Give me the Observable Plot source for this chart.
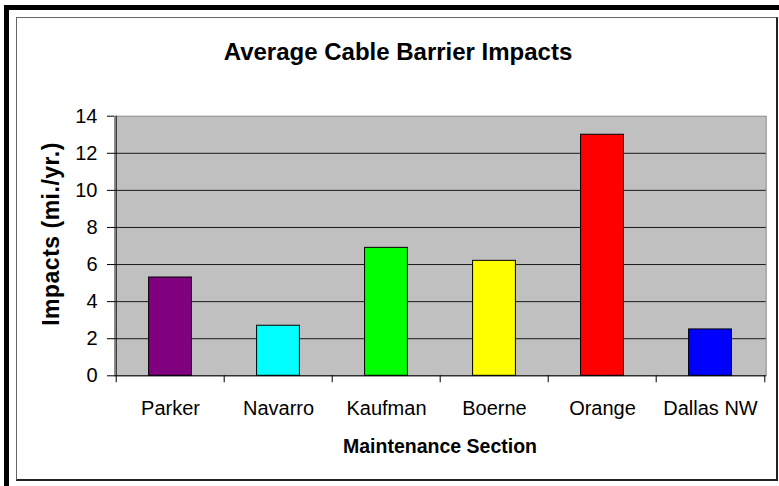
<!DOCTYPE html>
<html>
<head>
<meta charset="utf-8">
<script src="https://cdn.jsdelivr.net/npm/d3@7"></script>
<script src="https://cdn.jsdelivr.net/npm/@observablehq/plot@0.6"></script>
<style>
  html, body { margin: 0; padding: 0; background: #fff; }
  #wrap { position: relative; width: 779px; height: 486px; overflow: hidden; background: #fff;
          font-family: "Liberation Sans", Arial, sans-serif; color: #000; }
  .abs { position: absolute; }
  #outer { left: 4px; top: 5px; width: 900px; height: 600px; border-top: 5px solid #000; border-left: 5px solid #000; }
  #inner { left: 16px; top: 17px; width: 759px; height: 461px; background: #fff;
           border-top: 1px solid #666; border-left: 1px solid #666; border-right: 2px solid #222; border-bottom: 2px solid #222; }
  #plot { left: 0; top: 0; }
  .ttl { white-space: nowrap; line-height: 1; font-weight: bold; }
</style>
</head>
<body>
<div id="wrap">
  <div id="outer" class="abs"></div>
  <div id="inner" class="abs"></div>
  <div id="plot" class="abs"></div>
  <div id="title" class="abs ttl"></div>
  <div id="xtitle" class="abs ttl"></div>
  <div id="ytitle" class="abs ttl"></div>
</div>
<script>
const chartTitle = "Average Cable Barrier Impacts";
const xTitle = "Maintenance Section";
const yTitle = "Impacts (mi./yr.)";
const sections = ["Parker", "Navarro", "Kaufman", "Boerne", "Orange", "Dallas NW"];
const impacts = [5.3, 2.7, 6.9, 6.2, 13.0, 2.5];
const barColors = ["#800080", "#00ffff", "#00ff00", "#ffff00", "#ff0000", "#0000ff"];
const yTicks = [0, 2, 4, 6, 8, 10, 12, 14];
const gridLines = [2, 4, 6, 8, 10, 12];

const W = 779, H = 486;
const mL = 114, mR = 13.3, mT = 115.7, mB = 110.7;
const bw = (W - mL - mR) / sections.length;

const data = sections.map((s, i) => ({section: s, value: impacts[i]}));

const chart = Plot.plot({
  width: W,
  height: H,
  marginLeft: mL,
  marginRight: mR,
  marginTop: mT,
  marginBottom: mB,
  style: {fontFamily: "'Liberation Sans', Arial, sans-serif", fontSize: "20px", color: "#000", background: "transparent"},
  x: {domain: sections, padding: 0, label: null},
  y: {domain: [0, 14], label: null},
  color: {domain: sections, range: barColors},
  marks: [
    Plot.frame({fill: "#c0c0c0", stroke: "#8a8a8a"}),
    Plot.ruleY(gridLines, {stroke: "#1a1a1a", strokeWidth: 1}),
    Plot.barY(data, {x: "section", y: "value", fill: "section", stroke: "#000", strokeWidth: 1,
                     insetLeft: bw * 0.3, insetRight: bw * 0.3}),
    Plot.ruleY([0], {stroke: "#000", strokeWidth: 1}),
    Plot.ruleX([sections[0]], {dx: -bw / 2, stroke: "#000", strokeWidth: 1}),
    Plot.ruleX(sections, {x: d => d, y1: 0, y2: 0, dx: -bw / 2, insetBottom: -7, stroke: "#000"}),
    Plot.ruleX([sections[sections.length - 1]], {x: d => d, y1: 0, y2: 0, dx: bw / 2, insetBottom: -7, stroke: "#000"}),
    Plot.axisY({ticks: yTicks, tickSize: 7, tickPadding: 10, tickFormat: d => String(d), label: null, fontSize: 20, stroke: "#000"}),
    Plot.axisX({tickSize: 0, tickPadding: 24.5, label: null, fontSize: 20})
  ]
});
document.getElementById("plot").appendChild(chart);

const k = 0.8465; // baseline offset within a line-height:1 box (Liberation Sans)
function place(id, text, size, cx, baseline) {
  const el = document.getElementById(id);
  el.textContent = text;
  el.style.fontSize = size + "px";
  el.style.top = (baseline - k * size) + "px";
  el.style.left = cx + "px";
  el.style.transform = "translateX(-50%)";
}
place("title", chartTitle, 24, 398, 60);
place("xtitle", xTitle, 19.5, 440, 453.3);

const yt = document.getElementById("ytitle");
yt.textContent = yTitle;
const ys = 23;
yt.style.fontSize = ys + "px";
yt.style.letterSpacing = "0.5px";
yt.style.left = "51px";
yt.style.top = "233.5px";
yt.style.transform = "translate(-50%, -50%) rotate(-90deg)";
</script>
</body>
</html>
